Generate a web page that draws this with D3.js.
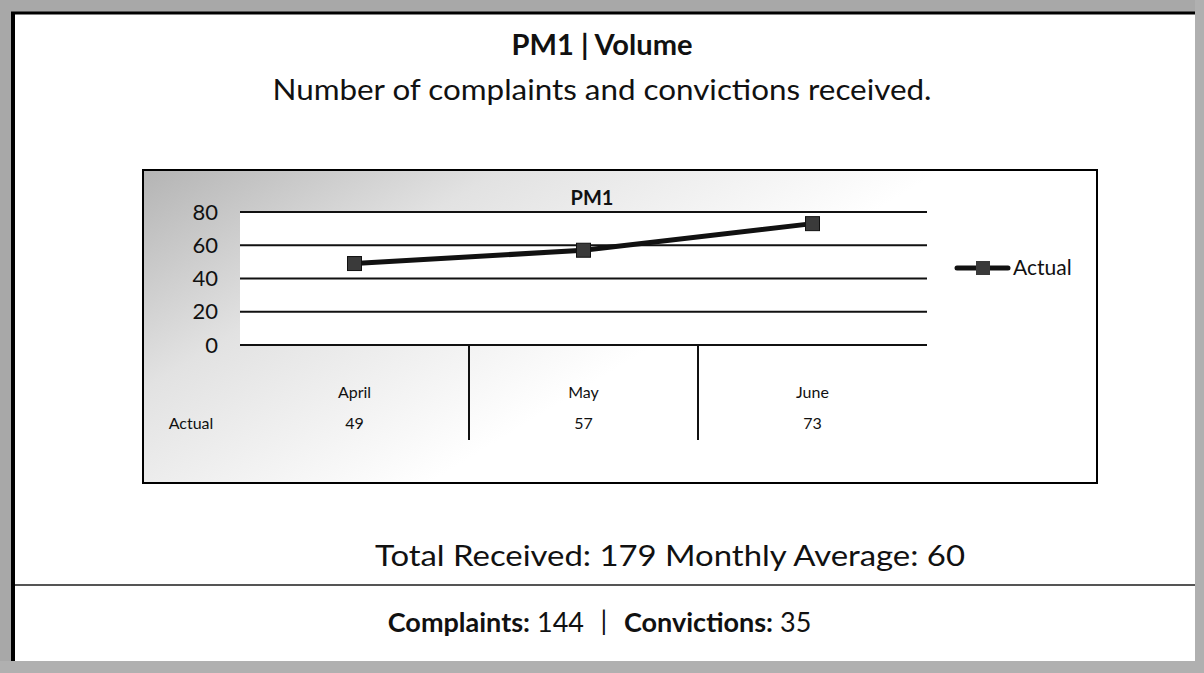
<!DOCTYPE html>
<html>
<head>
<meta charset="utf-8">
<script src="https://cdn.jsdelivr.net/npm/d3@7"></script>
<style>
  body { margin: 0; background: #fff; }
  svg { display: block; }
  text { font-family: Lato, "Open Sans", sans-serif; fill: #111; }
</style>
</head>
<body>
<div id="page"></div>
<script>
// values
var months = ["April", "May", "June"];
var actual = [49, 57, 73];
var yTicks = [0, 20, 40, 60, 80];
var seriesName = "Actual";
var complaints = 144;
var convictions = 35;

var width = 1204, height = 673;

var svg = d3.select("#page")
  .append("svg")
  .attr("width", width)
  .attr("height", height);

// gradient standing in for the scan's grey dither
var defs = svg.append("defs");
var grad = defs.append("linearGradient")
  .attr("id", "shade")
  .attr("x1", 0).attr("y1", 0)
  .attr("x2", 0.65).attr("y2", 0.35);
grad.append("stop").attr("offset", "0%").attr("stop-color", "#b4b4b4");
grad.append("stop").attr("offset", "45%").attr("stop-color", "#e2e2e2");
grad.append("stop").attr("offset", "100%").attr("stop-color", "#ffffff");

// page frame (scan edges)
svg.append("rect").attr("x", 0).attr("y", 0).attr("width", width).attr("height", 12).attr("fill", "#a8a8a8");
svg.append("rect").attr("x", 0).attr("y", 0).attr("width", 11).attr("height", height).attr("fill", "#a8a8a8");
svg.append("rect").attr("x", 1195).attr("y", 0).attr("width", 9).attr("height", height).attr("fill", "#b0b0b0");
svg.append("rect").attr("x", 0).attr("y", 661).attr("width", width).attr("height", 12).attr("fill", "#b0b0b0");
svg.append("line").attr("x1", 13).attr("x2", 13).attr("y1", 12).attr("y2", 661)
  .attr("stroke", "#000").attr("stroke-width", 4);
svg.append("line").attr("x1", 11).attr("x2", 1195).attr("y1", 13).attr("y2", 13)
  .attr("stroke", "#000").attr("stroke-width", 3);

// headings
svg.append("text")
  .attr("x", 602).attr("y", 55)
  .attr("text-anchor", "middle")
  .attr("font-size", 29).attr("font-weight", "bold")
  .attr("textLength", 181).attr("lengthAdjust", "spacingAndGlyphs")
  .text("PM1 | Volume");

svg.append("text")
  .attr("x", 602).attr("y", 100)
  .attr("text-anchor", "middle")
  .attr("font-size", 29)
  .attr("textLength", 659).attr("lengthAdjust", "spacingAndGlyphs")
  .text("Number of complaints and convictions received.");

// chart object
var box = {x: 143, y: 170, w: 954, h: 313};
svg.append("rect")
  .attr("x", box.x).attr("y", box.y)
  .attr("width", box.w).attr("height", box.h)
  .attr("fill", "url(#shade)");

var plotLeft = 240, plotRight = 927, plotTop = 212, plotBottom = 345;

var x = d3.scaleBand()
  .domain(months)
  .range([plotLeft, plotRight]);

var y = d3.scaleLinear()
  .domain([0, 80])
  .range([plotBottom, plotTop]);

svg.append("rect")
  .attr("x", plotLeft).attr("y", plotTop)
  .attr("width", plotRight - plotLeft).attr("height", plotBottom - plotTop)
  .attr("fill", "#fff");

// gridlines
svg.append("g")
  .selectAll("line")
  .data(yTicks)
  .join("line")
  .attr("x1", plotLeft).attr("x2", plotRight)
  .attr("y1", d => y(d)).attr("y2", d => y(d))
  .attr("stroke", "#111").attr("stroke-width", 2);

// y axis labels
var yAxis = d3.axisLeft(y).tickValues(yTicks).tickSize(0).tickPadding(0);
var yg = svg.append("g")
  .attr("transform", "translate(" + (plotLeft - 22) + ",0)")
  .call(yAxis);
yg.select(".domain").remove();
yg.selectAll("text")
  .attr("font-size", 22)
  .attr("font-family", "Lato, sans-serif")
  .attr("fill", "#222");

// chart title
svg.append("text")
  .attr("x", 592).attr("y", 205)
  .attr("text-anchor", "middle")
  .attr("font-size", 20).attr("font-weight", "bold")
  .text("PM1");

// data table under the axis
svg.append("g")
  .selectAll("line")
  .data(months.slice(1))
  .join("line")
  .attr("x1", d => x(d)).attr("x2", d => x(d))
  .attr("y1", plotBottom).attr("y2", 440)
  .attr("stroke", "#111").attr("stroke-width", 2);

svg.append("g")
  .selectAll("text")
  .data(months)
  .join("text")
  .attr("x", d => x(d) + x.bandwidth() / 2)
  .attr("y", 398)
  .attr("text-anchor", "middle")
  .attr("font-size", 16)
  .text(d => d);

svg.append("g")
  .selectAll("text")
  .data(actual)
  .join("text")
  .attr("x", (d, i) => x(months[i]) + x.bandwidth() / 2)
  .attr("y", 429)
  .attr("text-anchor", "middle")
  .attr("font-size", 16)
  .text(d => d);

svg.append("text")
  .attr("x", 191).attr("y", 429)
  .attr("text-anchor", "middle")
  .attr("font-size", 16)
  .text(seriesName);

// series
var line = d3.line()
  .x((d, i) => x(months[i]) + x.bandwidth() / 2)
  .y(d => y(d));

svg.append("path")
  .datum(actual)
  .attr("d", line)
  .attr("fill", "none")
  .attr("stroke", "#111")
  .attr("stroke-width", 5);

svg.append("g")
  .selectAll("rect")
  .data(actual)
  .join("rect")
  .attr("x", (d, i) => x(months[i]) + x.bandwidth() / 2 - 7)
  .attr("y", d => y(d) - 7)
  .attr("width", 14).attr("height", 14)
  .attr("fill", "#3a3a3a")
  .attr("stroke", "#111").attr("stroke-width", 1);

// legend
var legend = svg.append("g").attr("transform", "translate(957,268)");
legend.append("line")
  .attr("x1", 0).attr("x2", 51)
  .attr("y1", 0).attr("y2", 0)
  .attr("stroke", "#111").attr("stroke-width", 5)
  .attr("stroke-linecap", "round");
legend.append("rect")
  .attr("x", 19).attr("y", -7)
  .attr("width", 14).attr("height", 14)
  .attr("fill", "#3a3a3a");
legend.append("text")
  .attr("x", 56).attr("y", 7)
  .attr("font-size", 21)
  .text(seriesName);

svg.append("rect")
  .attr("x", box.x).attr("y", box.y)
  .attr("width", box.w).attr("height", box.h)
  .attr("fill", "none")
  .attr("stroke", "#000").attr("stroke-width", 2);

// summary lines
var total = d3.sum(actual);
var avg = Math.round(total / actual.length);

svg.append("text")
  .attr("x", 375).attr("y", 566)
  .attr("font-size", 29)
  .attr("textLength", 590).attr("lengthAdjust", "spacingAndGlyphs")
  .text("Total Received: " + total + " Monthly Average: " + avg);

svg.append("line")
  .attr("x1", 15).attr("x2", 1195)
  .attr("y1", 585).attr("y2", 585)
  .attr("stroke", "#555").attr("stroke-width", 2);

// footer: bold label + value on each side of a bar
function footPart(xPos, label, value, anchorEnd) {
  var g = svg.append("g");
  var lab = g.append("text")
    .attr("y", 632).attr("font-size", 27).attr("font-weight", "bold")
    .text(label + ":");
  var val = g.append("text")
    .attr("y", 632).attr("font-size", 27)
    .text(value);
  var lw = lab.node().getComputedTextLength();
  var vw = val.node().getComputedTextLength();
  var start = anchorEnd ? xPos - lw - 7 - vw : xPos;
  lab.attr("x", start);
  val.attr("x", start + lw + 7);
}
footPart(584, "Complaints", complaints, true);
svg.append("text")
  .attr("x", 604).attr("y", 630)
  .attr("text-anchor", "middle")
  .attr("font-size", 27)
  .text("|");
footPart(624, "Convictions", convictions, false);
</script>
</body>
</html>
